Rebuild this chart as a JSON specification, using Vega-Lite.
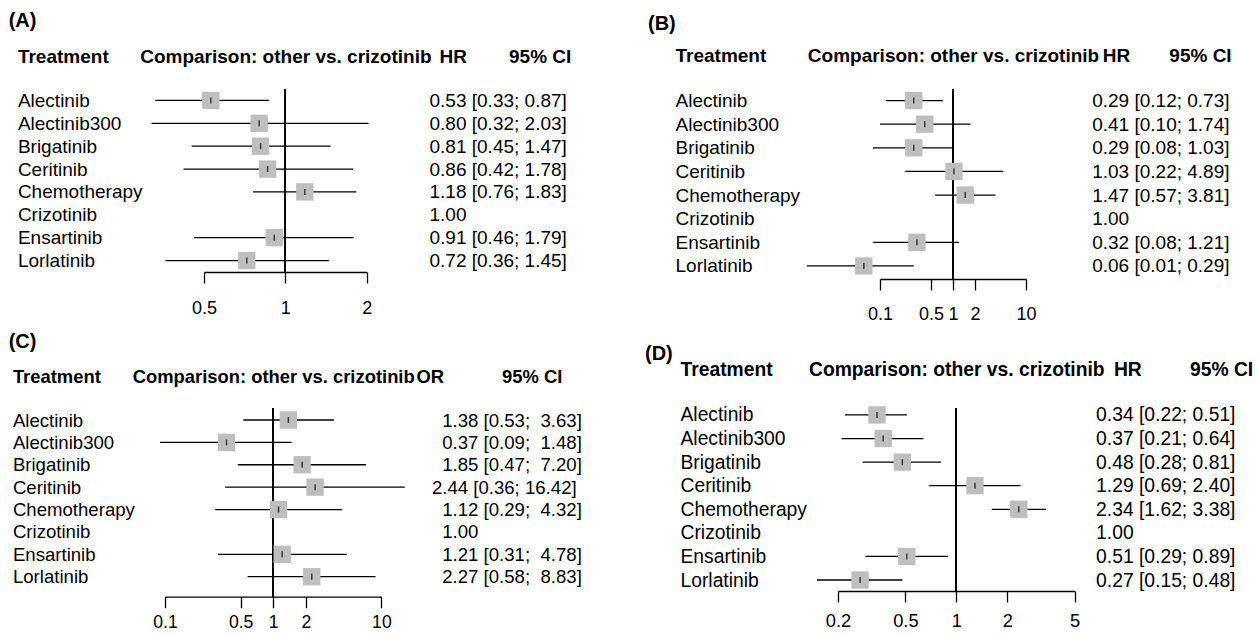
{
  "$schema": "https://vega.github.io/schema/vega-lite/v6.json",
  "autosize": {"type": "pad"},
  "padding": {"left": 8, "top": 11, "right": 0, "bottom": 0},
  "background": "white",
  "datasets": {
    "A": [
      {"t": "Alectinib", "est": 0.53, "lo": 0.33, "hi": 0.87, "lab": "0.53 [0.33; 0.87]"},
      {"t": "Alectinib300", "est": 0.80, "lo": 0.32, "hi": 2.03, "lab": "0.80 [0.32; 2.03]"},
      {"t": "Brigatinib", "est": 0.81, "lo": 0.45, "hi": 1.47, "lab": "0.81 [0.45; 1.47]"},
      {"t": "Ceritinib", "est": 0.86, "lo": 0.42, "hi": 1.78, "lab": "0.86 [0.42; 1.78]"},
      {"t": "Chemotherapy", "est": 1.18, "lo": 0.76, "hi": 1.83, "lab": "1.18 [0.76; 1.83]"},
      {"t": "Crizotinib", "est": 1.00, "lo": null, "hi": null, "lab": "1.00"},
      {"t": "Ensartinib", "est": 0.91, "lo": 0.46, "hi": 1.79, "lab": "0.91 [0.46; 1.79]"},
      {"t": "Lorlatinib", "est": 0.72, "lo": 0.36, "hi": 1.45, "lab": "0.72 [0.36; 1.45]"}
    ],
    "B": [
      {"t": "Alectinib", "est": 0.29, "lo": 0.12, "hi": 0.73, "lab": "0.29 [0.12; 0.73]"},
      {"t": "Alectinib300", "est": 0.41, "lo": 0.10, "hi": 1.74, "lab": "0.41 [0.10; 1.74]"},
      {"t": "Brigatinib", "est": 0.29, "lo": 0.08, "hi": 1.03, "lab": "0.29 [0.08; 1.03]"},
      {"t": "Ceritinib", "est": 1.03, "lo": 0.22, "hi": 4.89, "lab": "1.03 [0.22; 4.89]"},
      {"t": "Chemotherapy", "est": 1.47, "lo": 0.57, "hi": 3.81, "lab": "1.47 [0.57; 3.81]"},
      {"t": "Crizotinib", "est": 1.00, "lo": null, "hi": null, "lab": "1.00"},
      {"t": "Ensartinib", "est": 0.32, "lo": 0.08, "hi": 1.21, "lab": "0.32 [0.08; 1.21]"},
      {"t": "Lorlatinib", "est": 0.06, "lo": 0.01, "hi": 0.29, "lab": "0.06 [0.01; 0.29]"}
    ],
    "C": [
      {"t": "Alectinib", "est": 1.38, "lo": 0.53, "hi": 3.63, "lab": "\u200b\u00a0\u00a01.38 [0.53;\u00a0\u00a03.63]"},
      {"t": "Alectinib300", "est": 0.37, "lo": 0.09, "hi": 1.48, "lab": "\u200b\u00a0\u00a00.37 [0.09;\u00a0\u00a01.48]"},
      {"t": "Brigatinib", "est": 1.85, "lo": 0.47, "hi": 7.20, "lab": "\u200b\u00a0\u00a01.85 [0.47;\u00a0\u00a07.20]"},
      {"t": "Ceritinib", "est": 2.44, "lo": 0.36, "hi": 16.42, "lab": "2.44 [0.36; 16.42]"},
      {"t": "Chemotherapy", "est": 1.12, "lo": 0.29, "hi": 4.32, "lab": "\u200b\u00a0\u00a01.12 [0.29;\u00a0\u00a04.32]"},
      {"t": "Crizotinib", "est": 1.00, "lo": null, "hi": null, "lab": "\u200b\u00a0\u00a01.00"},
      {"t": "Ensartinib", "est": 1.21, "lo": 0.31, "hi": 4.78, "lab": "\u200b\u00a0\u00a01.21 [0.31;\u00a0\u00a04.78]"},
      {"t": "Lorlatinib", "est": 2.27, "lo": 0.58, "hi": 8.83, "lab": "\u200b\u00a0\u00a02.27 [0.58;\u00a0\u00a08.83]"}
    ],
    "D": [
      {"t": "Alectinib", "est": 0.34, "lo": 0.22, "hi": 0.51, "lab": "0.34 [0.22; 0.51]"},
      {"t": "Alectinib300", "est": 0.37, "lo": 0.21, "hi": 0.64, "lab": "0.37 [0.21; 0.64]"},
      {"t": "Brigatinib", "est": 0.48, "lo": 0.28, "hi": 0.81, "lab": "0.48 [0.28; 0.81]"},
      {"t": "Ceritinib", "est": 1.29, "lo": 0.69, "hi": 2.40, "lab": "1.29 [0.69; 2.40]"},
      {"t": "Chemotherapy", "est": 2.34, "lo": 1.62, "hi": 3.38, "lab": "2.34 [1.62; 3.38]"},
      {"t": "Crizotinib", "est": 1.00, "lo": null, "hi": null, "lab": "1.00"},
      {"t": "Ensartinib", "est": 0.51, "lo": 0.29, "hi": 0.89, "lab": "0.51 [0.29; 0.89]"},
      {"t": "Lorlatinib", "est": 0.27, "lo": 0.15, "hi": 0.48, "lab": "0.27 [0.15; 0.48]"}
    ]
  },
  "spacing": 9,
  "vconcat": [
    {
      "spacing": 77,
      "hconcat": [
        {
          "data": {"name": "A"},
          "width": 201.7,
          "height": 183,
          "title": {"text": "(A)", "anchor": "start", "frame": "bounds", "fontSize": 20, "fontWeight": "bold", "baseline": "middle", "offset": 6.2, "dx": -8.7, "color": "black"},
          "layer": [
            {
              "mark": {"type": "rule", "color": "black", "strokeWidth": 1.3},
              "encoding": {"x": {"datum": 1, "type": "quantitative", "scale": {"type": "log", "domain": [0.5, 2], "range": [39, 201.7], "nice": false, "zero": false}, "axis": null}}
            },
            {
              "transform": [{"filter": "datum.lo != null"}],
              "mark": {"type": "rule", "color": "black", "strokeWidth": 1.3},
              "encoding": {
                "x": {"field": "lo", "type": "quantitative", "scale": {"type": "log", "domain": [0.5, 2], "range": [39, 201.7], "nice": false, "zero": false},
                  "axis": {"orient": "bottom", "values": [0.5, 1, 2], "format": "~g", "labelFlush": false, "labelOverlap": false, "labelBound": false, "grid": false, "tickSize": 11, "tickWidth": 1.3, "tickColor": "black", "domainColor": "black", "domainWidth": 1.3, "labelFontSize": 18, "labelColor": "black", "labelPadding": 16.5, "title": "HR", "titleX": 287.7, "titleY": -215.7, "titleAngle": 0, "titleAlign": "center", "titleBaseline": "middle", "titleFontSize": 19, "titleFontWeight": "bold", "titleColor": "black"}},
                "x2": {"field": "hi"},
                "y": {"field": "t", "type": "nominal", "scale": {"type": "point", "domain": ["Alectinib", "Alectinib300", "Brigatinib", "Ceritinib", "Chemotherapy", "Crizotinib", "Ensartinib", "Lorlatinib"], "padding": 0.5, "align": 0.5},
                  "axis": {"orient": "left", "domain": false, "ticks": false, "tickSize": 0, "grid": false, "labelAlign": "left", "labelPadding": 147.6, "labelFontSize": 19, "labelColor": "black", "labelLimit": 300, "title": "Treatment", "titleAngle": 0, "titleAlign": "left", "titleBaseline": "middle", "titleX": -147.6, "titleY": -32.7, "titleFontSize": 19, "titleFontWeight": "bold", "titleColor": "black"}}
              }
            },
            {
              "transform": [{"filter": "datum.lo != null"}],
              "mark": {"type": "point", "shape": "square", "filled": true, "size": 300, "color": "#BEBEBE", "opacity": 1, "strokeWidth": 0},
              "encoding": {
                "x": {"field": "est", "type": "quantitative", "scale": {"type": "log", "domain": [0.5, 2], "range": [39, 201.7], "nice": false, "zero": false},
                  "axis": {"orient": "top", "domain": false, "ticks": false, "labels": false, "grid": false, "title": "Comparison: other vs. crizotinib", "titleY": -32.7, "titleBaseline": "middle", "titleFontSize": 19, "titleFontWeight": "bold", "titleColor": "black"}},
                "y": {"field": "t", "type": "nominal", "scale": {"type": "point", "domain": ["Alectinib", "Alectinib300", "Brigatinib", "Ceritinib", "Chemotherapy", "Crizotinib", "Ensartinib", "Lorlatinib"], "padding": 0.5, "align": 0.5}, "axis": null}
              }
            },
            {
              "transform": [{"filter": "datum.lo != null"}],
              "mark": {"type": "tick", "orient": "vertical", "size": 6, "thickness": 1.5, "color": "black"},
              "encoding": {
                "x": {"field": "est", "type": "quantitative", "scale": {"type": "log", "domain": [0.5, 2], "range": [39, 201.7], "nice": false, "zero": false}, "axis": null},
                "y": {"field": "lab", "type": "nominal", "scale": {"type": "point", "domain": ["0.53 [0.33; 0.87]", "0.80 [0.32; 2.03]", "0.81 [0.45; 1.47]", "0.86 [0.42; 1.78]", "1.18 [0.76; 1.83]", "1.00", "0.91 [0.46; 1.79]", "0.72 [0.36; 1.45]"], "padding": 0.5, "align": 0.5},
                  "axis": {"orient": "right", "domain": false, "ticks": false, "tickSize": 0, "grid": false, "labelAlign": "left", "labelPadding": 62.3, "labelFontSize": 19, "labelColor": "black", "labelLimit": 300, "title": "95% CI", "titleAngle": 0, "titleAlign": "center", "titleBaseline": "middle", "titleX": 173, "titleY": -32.7, "titleFontSize": 19, "titleFontWeight": "bold", "titleColor": "black"}}
              }
            }
          ],
          "resolve": {"scale": {"y": "independent"}, "axis": {"x": "independent", "y": "independent"}}
        },
        {
          "data": {"name": "B"},
          "width": 146,
          "height": 190,
          "title": {"text": "(B)", "anchor": "start", "frame": "bounds", "fontSize": 20, "fontWeight": "bold", "baseline": "middle", "offset": 2.7, "dx": -27, "color": "black"},
          "layer": [
            {
              "mark": {"type": "rule", "color": "black", "strokeWidth": 1.3},
              "encoding": {"x": {"datum": 1, "type": "quantitative", "scale": {"type": "log", "domain": [0.1, 10], "nice": false, "zero": false}, "axis": null}}
            },
            {
              "transform": [{"filter": "datum.lo != null"}],
              "mark": {"type": "rule", "color": "black", "strokeWidth": 1.3},
              "encoding": {
                "x": {"field": "lo", "type": "quantitative", "scale": {"type": "log", "domain": [0.1, 10], "nice": false, "zero": false},
                  "axis": {"orient": "bottom", "values": [0.1, 0.5, 1, 2, 10], "format": "~g", "labelFlush": false, "labelOverlap": false, "labelBound": false, "grid": false, "tickSize": 11, "tickWidth": 1.3, "tickColor": "black", "domainColor": "black", "domainWidth": 1.3, "labelFontSize": 18, "labelColor": "black", "labelPadding": 15, "title": "HR", "titleX": 236, "titleY": -223.6, "titleAngle": 0, "titleAlign": "center", "titleBaseline": "middle", "titleFontSize": 19, "titleFontWeight": "bold", "titleColor": "black"}},
                "x2": {"field": "hi"},
                "y": {"field": "t", "type": "nominal", "scale": {"type": "point", "domain": ["Alectinib", "Alectinib300", "Brigatinib", "Ceritinib", "Chemotherapy", "Crizotinib", "Ensartinib", "Lorlatinib"], "padding": 0.52, "align": 0.47},
                  "axis": {"orient": "left", "domain": false, "ticks": false, "tickSize": 0, "grid": false, "labelAlign": "left", "labelPadding": 205, "labelFontSize": 19, "labelColor": "black", "labelLimit": 300, "title": "Treatment", "titleAngle": 0, "titleAlign": "left", "titleBaseline": "middle", "titleX": -205, "titleY": -33.6, "titleFontSize": 19, "titleFontWeight": "bold", "titleColor": "black"}}
              }
            },
            {
              "transform": [{"filter": "datum.lo != null"}],
              "mark": {"type": "point", "shape": "square", "filled": true, "size": 300, "color": "#BEBEBE", "opacity": 1, "strokeWidth": 0},
              "encoding": {
                "x": {"field": "est", "type": "quantitative", "scale": {"type": "log", "domain": [0.1, 10], "nice": false, "zero": false},
                  "axis": {"orient": "top", "domain": false, "ticks": false, "labels": false, "grid": false, "title": "Comparison: other vs. crizotinib", "titleY": -33.6, "titleBaseline": "middle", "titleFontSize": 19, "titleFontWeight": "bold", "titleColor": "black"}},
                "y": {"field": "t", "type": "nominal", "scale": {"type": "point", "domain": ["Alectinib", "Alectinib300", "Brigatinib", "Ceritinib", "Chemotherapy", "Crizotinib", "Ensartinib", "Lorlatinib"], "padding": 0.52, "align": 0.47}, "axis": null}
              }
            },
            {
              "transform": [{"filter": "datum.lo != null"}],
              "mark": {"type": "tick", "orient": "vertical", "size": 6, "thickness": 1.5, "color": "black"},
              "encoding": {
                "x": {"field": "est", "type": "quantitative", "scale": {"type": "log", "domain": [0.1, 10], "nice": false, "zero": false}, "axis": null},
                "y": {"field": "lab", "type": "nominal", "scale": {"type": "point", "domain": ["0.29 [0.12; 0.73]", "0.41 [0.10; 1.74]", "0.29 [0.08; 1.03]", "1.03 [0.22; 4.89]", "1.47 [0.57; 3.81]", "1.00", "0.32 [0.08; 1.21]", "0.06 [0.01; 0.29]"], "padding": 0.52, "align": 0.47},
                  "axis": {"orient": "right", "domain": false, "ticks": false, "tickSize": 0, "grid": false, "labelAlign": "left", "labelPadding": 65.7, "labelFontSize": 19, "labelColor": "black", "labelLimit": 300, "title": "95% CI", "titleAngle": 0, "titleAlign": "center", "titleBaseline": "middle", "titleX": 174, "titleY": -33.6, "titleFontSize": 19, "titleFontWeight": "bold", "titleColor": "black"}}
              }
            }
          ],
          "resolve": {"scale": {"y": "independent"}, "axis": {"x": "independent", "y": "independent"}}
        }
      ]
    },
    {
      "spacing": 456,
      "bounds": "flush",
      "hconcat": [
        {
          "data": {"name": "C"},
          "width": 216.4,
          "height": 188.7,
          "title": {"text": "(C)", "anchor": "start", "frame": "bounds", "fontSize": 20, "fontWeight": "bold", "baseline": "middle", "offset": 5, "dx": -3.7, "color": "black"},
          "layer": [
            {
              "mark": {"type": "rule", "color": "black", "strokeWidth": 1.3},
              "encoding": {"x": {"datum": 1, "type": "quantitative", "scale": {"type": "log", "domain": [0.1, 10], "nice": false, "zero": false}, "axis": null}}
            },
            {
              "transform": [{"filter": "datum.lo != null"}],
              "mark": {"type": "rule", "color": "black", "strokeWidth": 1.3},
              "encoding": {
                "x": {"field": "lo", "type": "quantitative", "scale": {"type": "log", "domain": [0.1, 10], "nice": false, "zero": false},
                  "axis": {"orient": "bottom", "values": [0.1, 0.5, 1, 2, 10], "format": "~g", "labelFlush": false, "labelOverlap": false, "labelBound": false, "grid": false, "tickSize": 11, "tickWidth": 1.3, "tickColor": "black", "domainColor": "black", "domainWidth": 1.3, "labelFontSize": 17.6, "labelColor": "black", "labelPadding": 6, "title": "OR", "titleX": 264.7, "titleY": -220.7, "titleAngle": 0, "titleAlign": "center", "titleBaseline": "middle", "titleFontSize": 18.4, "titleFontWeight": "bold", "titleColor": "black"}},
                "x2": {"field": "hi"},
                "y": {"field": "t", "type": "nominal", "scale": {"type": "point", "domain": ["Alectinib", "Alectinib300", "Brigatinib", "Ceritinib", "Chemotherapy", "Crizotinib", "Ensartinib", "Lorlatinib"], "padding": 0.715, "align": 0.375},
                  "axis": {"orient": "left", "domain": false, "ticks": false, "tickSize": 0, "grid": false, "labelAlign": "left", "labelPadding": 152.6, "labelFontSize": 18.6, "labelColor": "black", "labelLimit": 300, "title": "Treatment", "titleAngle": 0, "titleAlign": "left", "titleBaseline": "middle", "titleX": -152.6, "titleY": -32, "titleFontSize": 18.4, "titleFontWeight": "bold", "titleColor": "black"}}
              }
            },
            {
              "transform": [{"filter": "datum.lo != null"}],
              "mark": {"type": "point", "shape": "square", "filled": true, "size": 300, "color": "#BEBEBE", "opacity": 1, "strokeWidth": 0},
              "encoding": {
                "x": {"field": "est", "type": "quantitative", "scale": {"type": "log", "domain": [0.1, 10], "nice": false, "zero": false},
                  "axis": {"orient": "top", "domain": false, "ticks": false, "labels": false, "grid": false, "title": "Comparison: other vs. crizotinib", "titleY": -32, "titleBaseline": "middle", "titleFontSize": 18.4, "titleFontWeight": "bold", "titleColor": "black"}},
                "y": {"field": "t", "type": "nominal", "scale": {"type": "point", "domain": ["Alectinib", "Alectinib300", "Brigatinib", "Ceritinib", "Chemotherapy", "Crizotinib", "Ensartinib", "Lorlatinib"], "padding": 0.715, "align": 0.375}, "axis": null}
              }
            },
            {
              "transform": [{"filter": "datum.lo != null"}],
              "mark": {"type": "tick", "orient": "vertical", "size": 6, "thickness": 1.5, "color": "black"},
              "encoding": {
                "x": {"field": "est", "type": "quantitative", "scale": {"type": "log", "domain": [0.1, 10], "nice": false, "zero": false}, "axis": null},
                "y": {"field": "lab", "type": "nominal", "scale": {"type": "point", "domain": ["\u200b\u00a0\u00a01.38 [0.53;\u00a0\u00a03.63]", "\u200b\u00a0\u00a00.37 [0.09;\u00a0\u00a01.48]", "\u200b\u00a0\u00a01.85 [0.47;\u00a0\u00a07.20]", "2.44 [0.36; 16.42]", "\u200b\u00a0\u00a01.12 [0.29;\u00a0\u00a04.32]", "\u200b\u00a0\u00a01.00", "\u200b\u00a0\u00a01.21 [0.31;\u00a0\u00a04.78]", "\u200b\u00a0\u00a02.27 [0.58;\u00a0\u00a08.83]"], "padding": 0.715, "align": 0.375},
                  "axis": {"orient": "right", "domain": false, "ticks": false, "tickSize": 0, "grid": false, "labelAlign": "left", "labelPadding": 50, "labelFontSize": 18.6, "labelColor": "black", "labelLimit": 300, "title": "95% CI", "titleAngle": 0, "titleAlign": "center", "titleBaseline": "middle", "titleX": 150.3, "titleY": -32, "titleFontSize": 18.4, "titleFontWeight": "bold", "titleColor": "black"}}
              }
            }
          ],
          "resolve": {"scale": {"y": "independent"}, "axis": {"x": "independent", "y": "independent"}}
        },
        {
          "data": {"name": "D"},
          "width": 236.6,
          "height": 183,
          "title": {"text": "(D)", "anchor": "start", "frame": "bounds", "fontSize": 20, "fontWeight": "bold", "baseline": "middle", "offset": -13.9, "dx": -35, "color": "black"},
          "layer": [
            {
              "mark": {"type": "rule", "color": "black", "strokeWidth": 1.3},
              "encoding": {"x": {"datum": 1, "type": "quantitative", "scale": {"type": "log", "domain": [0.2, 5], "nice": false, "zero": false}, "axis": null}}
            },
            {
              "transform": [{"filter": "datum.lo != null"}],
              "mark": {"type": "rule", "color": "black", "strokeWidth": 1.3},
              "encoding": {
                "x": {"field": "lo", "type": "quantitative", "scale": {"type": "log", "domain": [0.2, 5], "nice": false, "zero": false},
                  "axis": {"orient": "bottom", "values": [0.2, 0.5, 1, 2, 5], "format": "~g", "labelFlush": false, "labelOverlap": false, "labelBound": false, "grid": false, "tickSize": 11, "tickWidth": 1.3, "tickColor": "black", "domainColor": "black", "domainWidth": 1.3, "labelFontSize": 18.3, "labelColor": "black", "labelPadding": 10, "title": "HR", "titleX": 289.3, "titleY": -222, "titleAngle": 0, "titleAlign": "center", "titleBaseline": "middle", "titleFontSize": 19.3, "titleFontWeight": "bold", "titleColor": "black"}},
                "x2": {"field": "hi"},
                "y": {"field": "t", "type": "nominal", "scale": {"type": "point", "domain": ["Alectinib", "Alectinib300", "Brigatinib", "Ceritinib", "Chemotherapy", "Crizotinib", "Ensartinib", "Lorlatinib"], "range": [-4.7, 183], "padding": 0.48, "align": 0.515},
                  "axis": {"orient": "left", "domain": false, "ticks": false, "tickSize": 0, "grid": false, "labelAlign": "left", "labelPadding": 158, "labelFontSize": 19.3, "labelColor": "black", "labelLimit": 300, "title": "Treatment", "titleAngle": 0, "titleAlign": "left", "titleBaseline": "middle", "titleX": -158, "titleY": -39, "titleFontSize": 19.3, "titleFontWeight": "bold", "titleColor": "black"}}
              }
            },
            {
              "transform": [{"filter": "datum.lo != null"}],
              "mark": {"type": "point", "shape": "square", "filled": true, "size": 300, "color": "#BEBEBE", "opacity": 1, "strokeWidth": 0},
              "encoding": {
                "x": {"field": "est", "type": "quantitative", "scale": {"type": "log", "domain": [0.2, 5], "nice": false, "zero": false},
                  "axis": {"orient": "top", "domain": false, "ticks": false, "labels": false, "grid": false, "title": "Comparison: other vs. crizotinib", "titleY": -39, "titleBaseline": "middle", "titleFontSize": 19.3, "titleFontWeight": "bold", "titleColor": "black"}},
                "y": {"field": "t", "type": "nominal", "scale": {"type": "point", "domain": ["Alectinib", "Alectinib300", "Brigatinib", "Ceritinib", "Chemotherapy", "Crizotinib", "Ensartinib", "Lorlatinib"], "range": [-4.7, 183], "padding": 0.48, "align": 0.515}, "axis": null}
              }
            },
            {
              "transform": [{"filter": "datum.lo != null"}],
              "mark": {"type": "tick", "orient": "vertical", "size": 6, "thickness": 1.5, "color": "black"},
              "encoding": {
                "x": {"field": "est", "type": "quantitative", "scale": {"type": "log", "domain": [0.2, 5], "nice": false, "zero": false}, "axis": null},
                "y": {"field": "lab", "type": "nominal", "scale": {"type": "point", "domain": ["0.34 [0.22; 0.51]", "0.37 [0.21; 0.64]", "0.48 [0.28; 0.81]", "1.29 [0.69; 2.40]", "2.34 [1.62; 3.38]", "1.00", "0.51 [0.29; 0.89]", "0.27 [0.15; 0.48]"], "range": [-4.7, 183], "padding": 0.48, "align": 0.515},
                  "axis": {"orient": "right", "domain": false, "ticks": false, "tickSize": 0, "grid": false, "labelAlign": "left", "labelPadding": 21, "labelFontSize": 19.3, "labelColor": "black", "labelLimit": 300, "title": "95% CI", "titleAngle": 0, "titleAlign": "center", "titleBaseline": "middle", "titleX": 146.5, "titleY": -39, "titleFontSize": 19.3, "titleFontWeight": "bold", "titleColor": "black"}}
              }
            }
          ],
          "resolve": {"scale": {"y": "independent"}, "axis": {"x": "independent", "y": "independent"}}
        }
      ]
    }
  ],
  "config": {"font": "Liberation Sans", "view": {"stroke": null}, "axis": {"grid": false}}
}
